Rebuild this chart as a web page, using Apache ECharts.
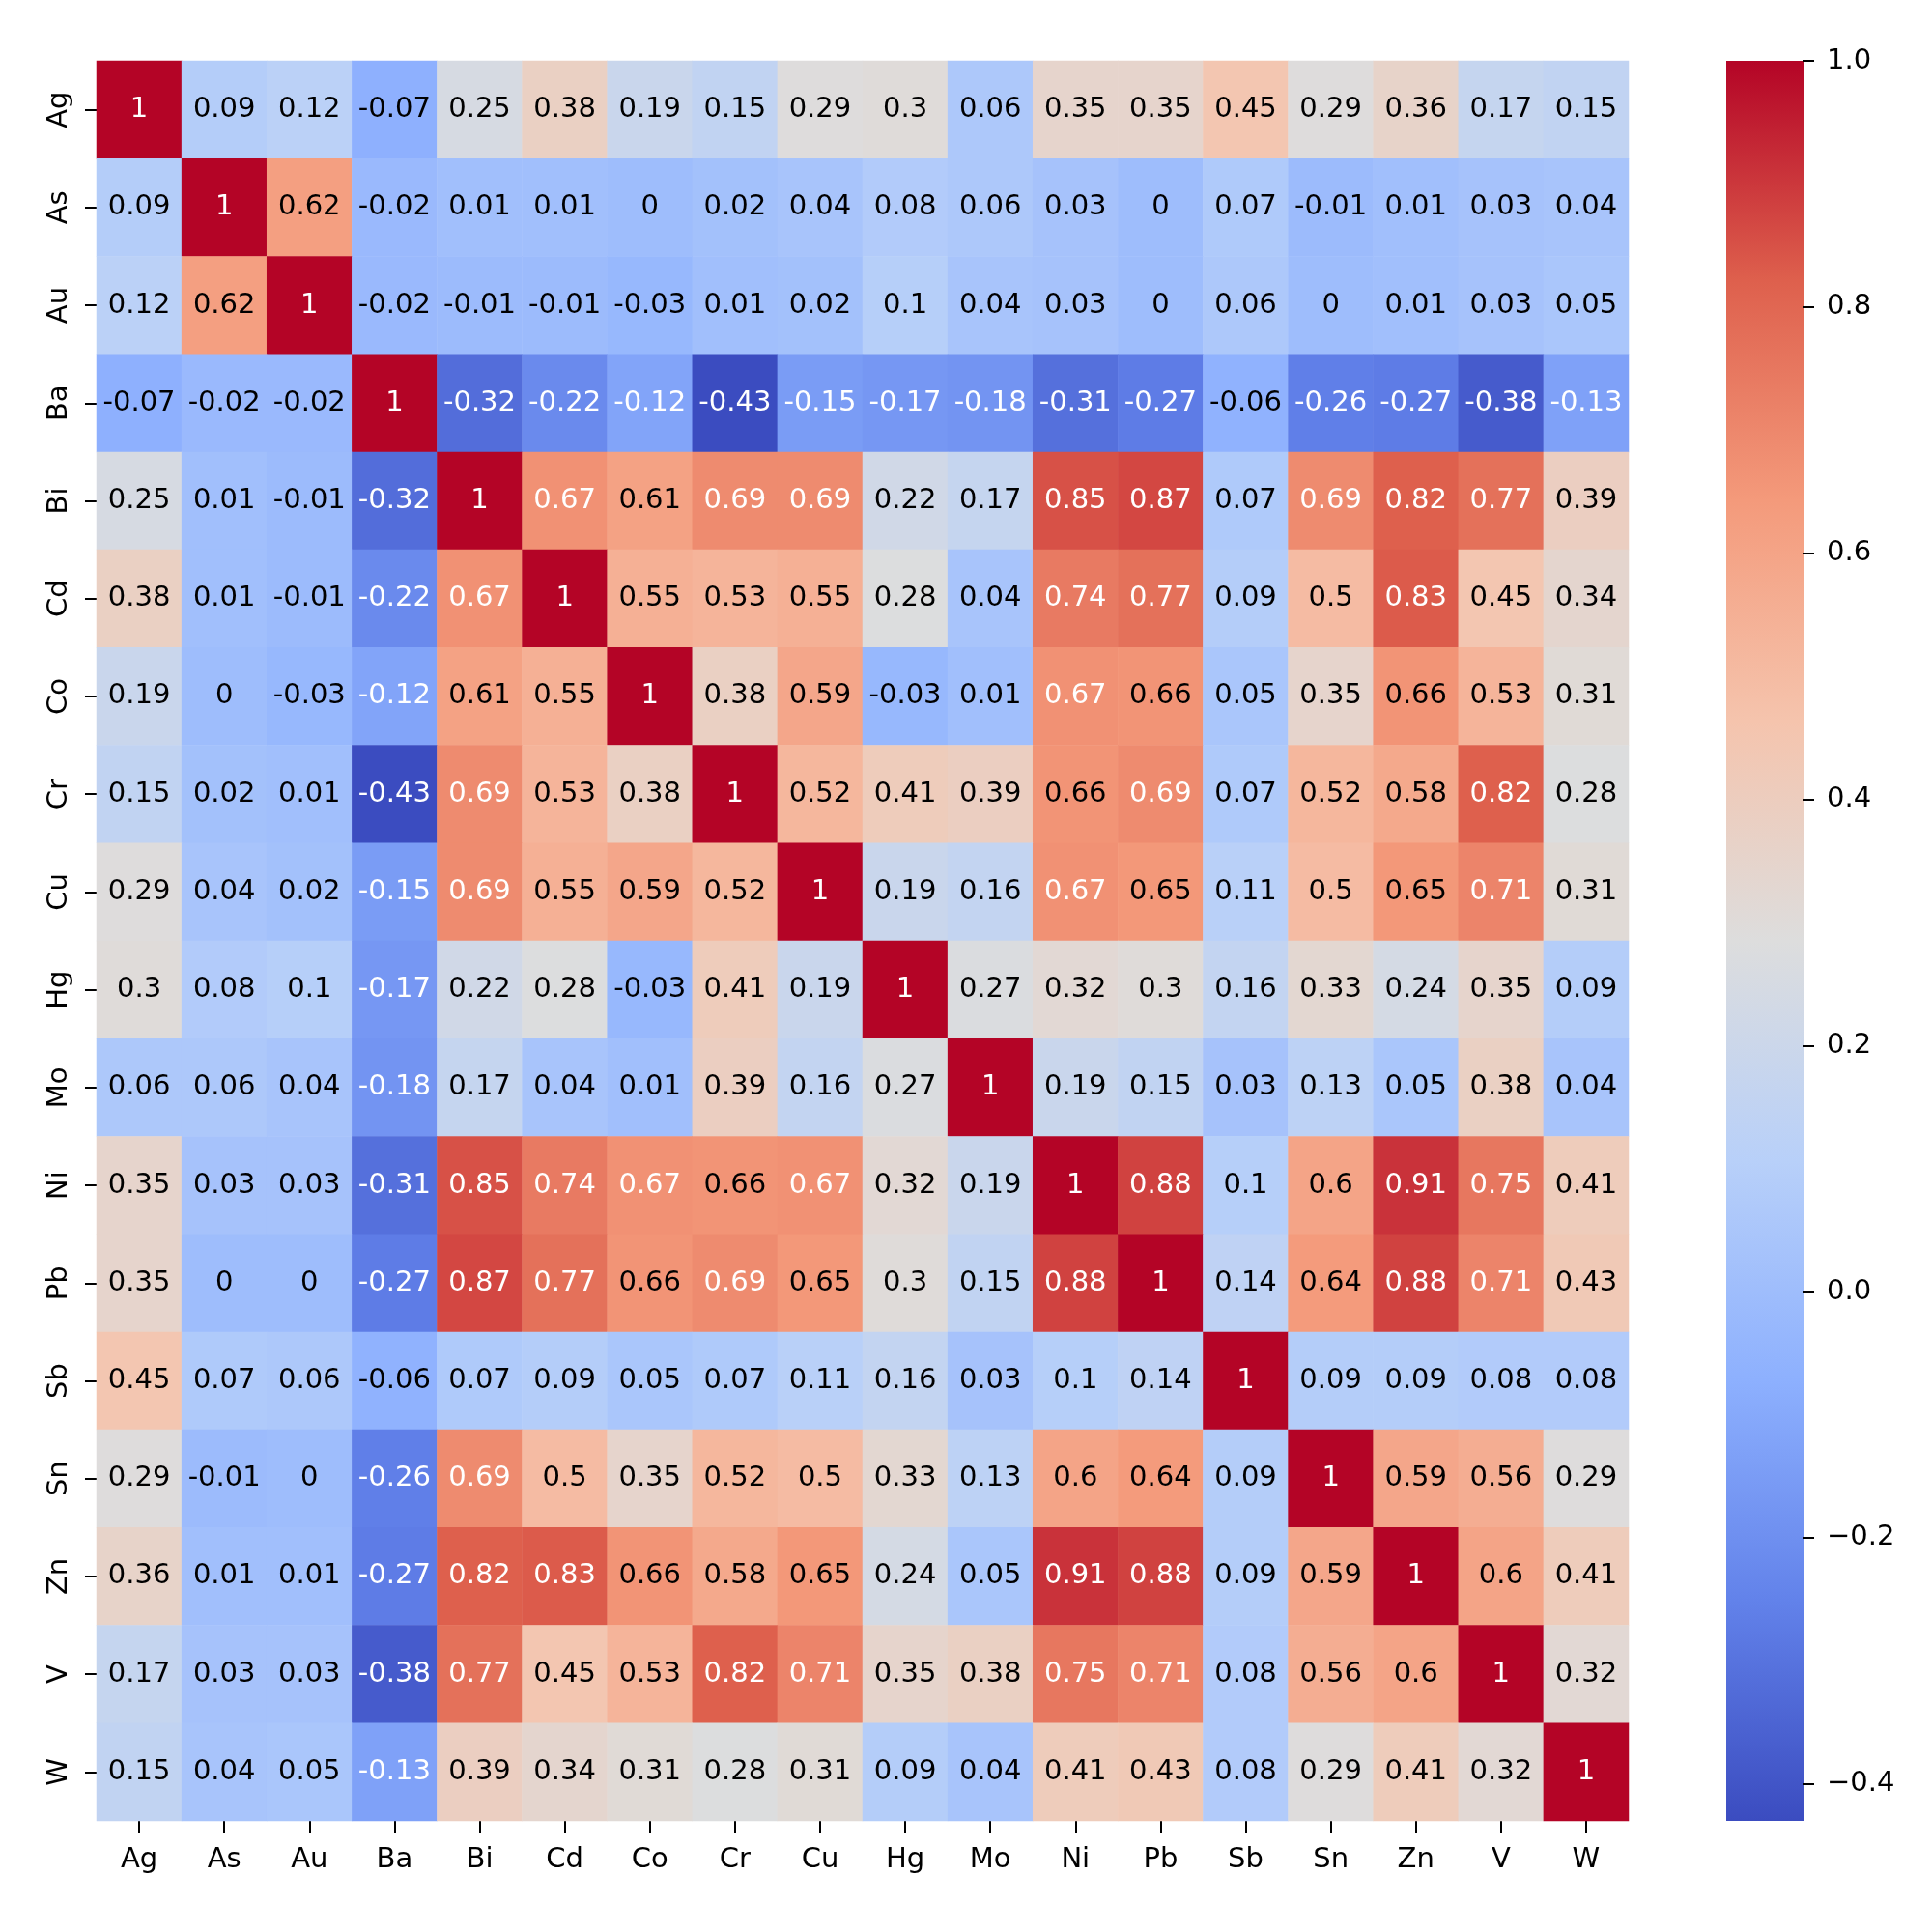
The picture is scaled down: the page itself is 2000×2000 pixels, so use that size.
<!DOCTYPE html>
<html>
<head>
<meta charset="utf-8">
<script src="https://cdn.jsdelivr.net/npm/echarts@6/dist/echarts.min.js"></script>
<style>
html,body{margin:0;padding:0;background:#fff;}
#main{width:2000px;height:2000px;}
</style>
</head>
<body>
<div id="main"></div>
<script>
var elements = ['Ag','As','Au','Ba','Bi','Cd','Co','Cr','Cu','Hg','Mo','Ni','Pb','Sb','Sn','Zn','V','W'];
var rowAg = [1, 0.09, 0.12, -0.07, 0.25, 0.38, 0.19, 0.15, 0.29, 0.3, 0.06, 0.35, 0.35, 0.45, 0.29, 0.36, 0.17, 0.15];
var rowAs = [0.09, 1, 0.62, -0.02, 0.01, 0.01, 0, 0.02, 0.04, 0.08, 0.06, 0.03, 0, 0.07, -0.01, 0.01, 0.03, 0.04];
var rowAu = [0.12, 0.62, 1, -0.02, -0.01, -0.01, -0.03, 0.01, 0.02, 0.1, 0.04, 0.03, 0, 0.06, 0, 0.01, 0.03, 0.05];
var rowBa = [-0.07, -0.02, -0.02, 1, -0.32, -0.22, -0.12, -0.43, -0.15, -0.17, -0.18, -0.31, -0.27, -0.06, -0.26, -0.27, -0.38, -0.13];
var rowBi = [0.25, 0.01, -0.01, -0.32, 1, 0.67, 0.61, 0.69, 0.69, 0.22, 0.17, 0.85, 0.87, 0.07, 0.69, 0.82, 0.77, 0.39];
var rowCd = [0.38, 0.01, -0.01, -0.22, 0.67, 1, 0.55, 0.53, 0.55, 0.28, 0.04, 0.74, 0.77, 0.09, 0.5, 0.83, 0.45, 0.34];
var rowCo = [0.19, 0, -0.03, -0.12, 0.61, 0.55, 1, 0.38, 0.59, -0.03, 0.01, 0.67, 0.66, 0.05, 0.35, 0.66, 0.53, 0.31];
var rowCr = [0.15, 0.02, 0.01, -0.43, 0.69, 0.53, 0.38, 1, 0.52, 0.41, 0.39, 0.66, 0.69, 0.07, 0.52, 0.58, 0.82, 0.28];
var rowCu = [0.29, 0.04, 0.02, -0.15, 0.69, 0.55, 0.59, 0.52, 1, 0.19, 0.16, 0.67, 0.65, 0.11, 0.5, 0.65, 0.71, 0.31];
var rowHg = [0.3, 0.08, 0.1, -0.17, 0.22, 0.28, -0.03, 0.41, 0.19, 1, 0.27, 0.32, 0.3, 0.16, 0.33, 0.24, 0.35, 0.09];
var rowMo = [0.06, 0.06, 0.04, -0.18, 0.17, 0.04, 0.01, 0.39, 0.16, 0.27, 1, 0.19, 0.15, 0.03, 0.13, 0.05, 0.38, 0.04];
var rowNi = [0.35, 0.03, 0.03, -0.31, 0.85, 0.74, 0.67, 0.66, 0.67, 0.32, 0.19, 1, 0.88, 0.1, 0.6, 0.91, 0.75, 0.41];
var rowPb = [0.35, 0, 0, -0.27, 0.87, 0.77, 0.66, 0.69, 0.65, 0.3, 0.15, 0.88, 1, 0.14, 0.64, 0.88, 0.71, 0.43];
var rowSb = [0.45, 0.07, 0.06, -0.06, 0.07, 0.09, 0.05, 0.07, 0.11, 0.16, 0.03, 0.1, 0.14, 1, 0.09, 0.09, 0.08, 0.08];
var rowSn = [0.29, -0.01, 0, -0.26, 0.69, 0.5, 0.35, 0.52, 0.5, 0.33, 0.13, 0.6, 0.64, 0.09, 1, 0.59, 0.56, 0.29];
var rowZn = [0.36, 0.01, 0.01, -0.27, 0.82, 0.83, 0.66, 0.58, 0.65, 0.24, 0.05, 0.91, 0.88, 0.09, 0.59, 1, 0.6, 0.41];
var rowV  = [0.17, 0.03, 0.03, -0.38, 0.77, 0.45, 0.53, 0.82, 0.71, 0.35, 0.38, 0.75, 0.71, 0.08, 0.56, 0.6, 1, 0.32];
var rowW  = [0.15, 0.04, 0.05, -0.13, 0.39, 0.34, 0.31, 0.28, 0.31, 0.09, 0.04, 0.41, 0.43, 0.08, 0.29, 0.41, 0.32, 1];
var colorbarTicks = [-0.4, -0.2, 0.0, 0.2, 0.4, 0.6, 0.8, 1.0];
var vMin = -0.43, vMax = 1.0;

var rows = [rowAg,rowAs,rowAu,rowBa,rowBi,rowCd,rowCo,rowCr,rowCu,rowHg,rowMo,rowNi,rowPb,rowSb,rowSn,rowZn,rowV,rowW];

// coolwarm colormap stops
var cmap = [[59,76,192],[98,130,234],[141,176,254],[184,208,249],[221,221,221],[245,196,173],[244,154,123],[222,96,77],[180,4,38]];
function rgbStr(c){ return 'rgb(' + c.map(function(x){return Math.round(x);}).join(',') + ')'; }
function cmapColor(v){
  var t = (v - vMin) / (vMax - vMin);
  t = Math.max(0, Math.min(1, t));
  var p = t * (cmap.length - 1);
  var i = Math.min(Math.floor(p), cmap.length - 2);
  var f = p - i;
  return [0,1,2].map(function(k){ return cmap[i][k] + (cmap[i+1][k] - cmap[i][k]) * f; });
}
function lum(c){
  var l = c.map(function(x){ x = x/255; return x <= 0.03928 ? x/12.92 : Math.pow((x+0.055)/1.055, 2.4); });
  return 0.2126*l[0] + 0.7152*l[1] + 0.0722*l[2];
}
var data = [];
rows.forEach(function(row, yi){
  row.forEach(function(v, xi){
    var txt = lum(cmapColor(v)) < 0.408 ? '#ffffff' : '#000000';
    data.push({value:[xi, yi, v], label:{color: txt}});
  });
});

var chart = echarts.init(document.getElementById('main'), null, {renderer:'canvas'});
var font = 'DejaVu Sans';
var fs = 29;
var cbWidth = 80;
chart.setOption({
  animation: false,
  backgroundColor: '#ffffff',
  grid: [
    {left: 100, top: 63, width: 1586, height: 1822},
    {left: 1866, top: 63, width: 1, height: 1822}
  ],
  xAxis: [
    {type: 'category', data: elements, gridIndex: 0, position: 'bottom',
     axisLine: {show: false},
     axisTick: {show: true, alignWithLabel: true, length: 12, lineStyle: {color: '#000', width: 2}},
     axisLabel: {fontFamily: font, fontSize: fs, color: '#000', margin: 26, interval: 0},
     splitLine: {show: false}},
    {type: 'value', gridIndex: 1, show: false, min: 0, max: 1}
  ],
  yAxis: [
    {type: 'category', data: elements, gridIndex: 0, inverse: true,
     axisLine: {show: false},
     axisTick: {show: true, alignWithLabel: true, length: 12, lineStyle: {color: '#000', width: 2}},
     axisLabel: {fontFamily: font, fontSize: fs, color: '#000', margin: 24, rotate: 90, interval: 0},
     splitLine: {show: false}},
    {type: 'value', gridIndex: 1, position: 'right', min: vMin, max: vMax,
     axisLine: {show: false},
     splitLine: {show: false},
     axisTick: {show: true, length: 12, customValues: colorbarTicks, lineStyle: {color: '#000', width: 2}},
     axisLabel: {fontFamily: font, fontSize: fs, color: '#000', margin: 24, customValues: colorbarTicks,
       formatter: function(v){ return (v < -1e-9 ? '\u2212' : '') + Math.abs(v).toFixed(1); }}}
  ],
  visualMap: {
    type: 'continuous', min: vMin, max: vMax, show: false, seriesIndex: 0,
    inRange: {color: cmap.map(rgbStr)}
  },
  series: [{
    type: 'heatmap', xAxisIndex: 0, yAxisIndex: 0, data: data,
    itemStyle: {borderWidth: 0},
    label: {show: true, fontFamily: font, fontSize: fs,
      formatter: function(p){ return String(p.value[2]); }},
    emphasis: {disabled: true}
  }]
});

// colorbar gradient placed from the colorbar axis scale (axis sits on the bar's right edge)
var pTop = chart.convertToPixel({gridIndex: 1}, [1, vMax]);
var pBot = chart.convertToPixel({gridIndex: 1}, [1, vMin]);
var stops = cmap.map(function(c, i){ return {offset: 1 - i/(cmap.length-1), color: rgbStr(c)}; }).reverse();
chart.setOption({
  graphic: [{
    type: 'rect', silent: true, z: -1,
    shape: {x: pTop[0] - cbWidth, y: pTop[1], width: cbWidth, height: pBot[1] - pTop[1]},
    style: {fill: new echarts.graphic.LinearGradient(0, 0, 0, 1, stops)}
  }]
});
</script>
</body>
</html>
